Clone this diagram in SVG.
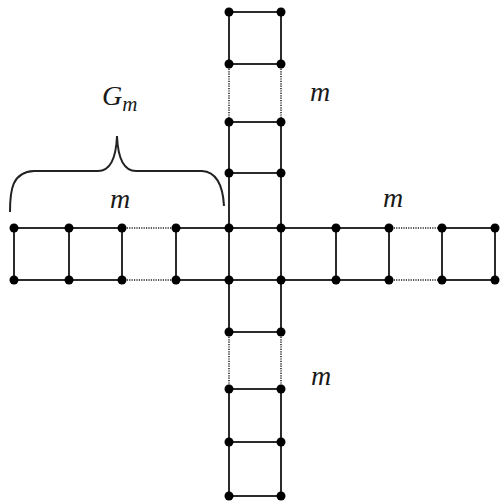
<svg xmlns="http://www.w3.org/2000/svg" width="500" height="501" viewBox="0 0 500 501">
<style>
.e{stroke:#2b2b2b;stroke-width:2;fill:none;stroke-linecap:round}
.d{stroke:#555;stroke-width:2;fill:none;stroke-dasharray:1.2 1.2}
.n{fill:#000}
.t{font-family:"Liberation Serif","DejaVu Serif",serif;font-style:italic;font-size:28px;fill:#1a1a1a}
.s{font-size:21px}
.b{stroke:#222;stroke-width:2;fill:none}
</style>
<defs><circle id="v" r="4.5" class="n"/></defs>
<rect width="500" height="501" fill="#fff"/>
<g id="connectors">
<path class="e" d="M14,228H122M14,280H122M14,228V280M69,228V280M122,228V280"/>
<path class="d" d="M122,228H176M122,280H176"/>
<path class="e" d="M176,228H389M176,280H389M176,228V280"/>
<path class="e" d="M442,228H495M442,280H495"/>
<path class="e" d="M336,228V280M389,228V280M442,228V280M495,228V280"/>
<path class="d" d="M389,228H442M389,280H442"/>
<path class="e" d="M229,12H281M229,64H281M229,12V64M281,12V64"/>
<path class="d" d="M229,64V122M281,64V122"/>
<path class="e" d="M229,122H281M229,173H281M229,122V332M281,122V332"/>
<path class="d" d="M229,332V389M281,332V389"/>
<path class="e" d="M229,332H281M229,389H281M229,442H281M229,496H281M229,389V496M281,389V496"/>
</g>
<g id="brace">
<path class="b" d="M10,212C10,190 12,172 34,171H98C110,171 116,160 117,136C118,160 124,171 136,171H202C218,172 223,188 224,206"/>
</g>
<g id="nodes">
<use href="#v" x="14" y="228"/><use href="#v" x="69" y="228"/><use href="#v" x="122" y="228"/><use href="#v" x="176" y="228"/>
<use href="#v" x="14" y="280"/><use href="#v" x="69" y="280"/><use href="#v" x="122" y="280"/><use href="#v" x="176" y="280"/>
<use href="#v" x="229" y="228"/><use href="#v" x="281" y="228"/><use href="#v" x="229" y="280"/><use href="#v" x="281" y="280"/>
<use href="#v" x="336" y="228"/><use href="#v" x="389" y="228"/><use href="#v" x="442" y="228"/><use href="#v" x="495" y="228"/>
<use href="#v" x="336" y="280"/><use href="#v" x="389" y="280"/><use href="#v" x="442" y="280"/><use href="#v" x="495" y="280"/>
<use href="#v" x="229" y="12"/><use href="#v" x="281" y="12"/><use href="#v" x="229" y="64"/><use href="#v" x="281" y="64"/>
<use href="#v" x="229" y="122"/><use href="#v" x="281" y="122"/><use href="#v" x="229" y="173"/><use href="#v" x="281" y="173"/>
<use href="#v" x="229" y="332"/><use href="#v" x="281" y="332"/><use href="#v" x="229" y="389"/><use href="#v" x="281" y="389"/>
<use href="#v" x="229" y="442"/><use href="#v" x="281" y="442"/><use href="#v" x="229" y="496"/><use href="#v" x="281" y="496"/>
</g>
<g id="labels">
<text class="t" x="102" y="105">G<tspan class="s" dy="6">m</tspan></text>
<text class="t" x="110" y="208">m</text>
<text class="t" x="383" y="207">m</text>
<text class="t" x="310" y="101">m</text>
<text class="t" x="311" y="385">m</text>
</g>
</svg>
